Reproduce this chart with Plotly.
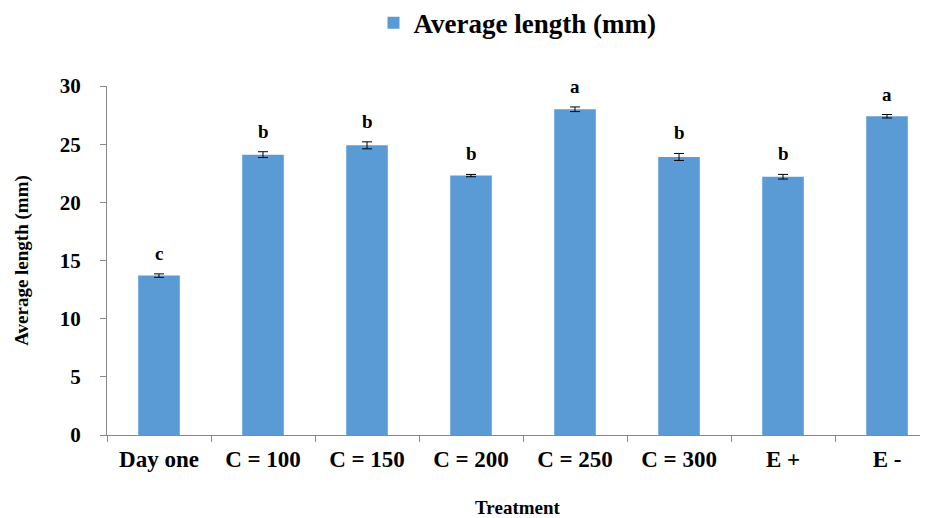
import plotly.graph_objects as go

categories = ["Day one", "C = 100", "C = 150", "C = 200", "C = 250", "C = 300", "E +", "E -"]
avg_length = [13.7, 24.1, 24.9, 22.3, 28.0, 23.9, 22.2, 27.4]
std_err = [0.15, 0.25, 0.3, 0.1, 0.2, 0.3, 0.2, 0.15]
letters = ["c", "b", "b", "b", "a", "b", "b", "a"]
y_ticks = [0, 5, 10, 15, 20, 25, 30]

FONT = "Liberation Serif, Times New Roman, serif"

fig = go.Figure()
fig.add_trace(go.Bar(
    x=categories, y=avg_length, name="<b>Average length (mm)</b>",
    marker=dict(color="#5B9BD5", line=dict(width=0)),
    width=0.4, showlegend=True,
    error_y=dict(type="data", array=std_err, color="black", thickness=1, width=5),
))

for c, v, e, l in zip(categories, avg_length, std_err, letters):
    fig.add_annotation(x=c, y=v + e, text=f"<b>{l}</b>", showarrow=False,
                       yanchor="bottom", yshift=8,
                       font=dict(family=FONT, size=19, color="black"))

# page has an 8px body margin: figure is sized/offset to fit the 928x518 window
fig.update_layout(
    width=920, height=510,
    margin=dict(l=99, r=0, t=78, b=81),
    paper_bgcolor="white", plot_bgcolor="white",
    font=dict(family=FONT, color="black"),
    showlegend=True,
    legend=dict(orientation="h", x=0.5, xanchor="center",
                yref="container", y=0.97, yanchor="middle",
                font=dict(family=FONT, size=27, color="black"),
                itemwidth=30),
    bargap=0.6,
)

fig.update_xaxes(
    range=[-0.5, 7.394], showline=True, linecolor="#888888", linewidth=1,
    ticks="outside", tickson="boundaries", ticklen=6, tickcolor="#888888",
    tickfont=dict(family=FONT, size=23, color="black"),
    ticklabelstandoff=3,
    tickvals=categories, ticktext=[f"<b>{c}</b>" for c in categories],
    title=dict(text="<b>Treatment</b>", font=dict(family=FONT, size=19, color="black"), standoff=33),
    showgrid=False,
)
fig.update_yaxes(
    range=[0, 30], showline=True, linecolor="#888888", linewidth=1,
    ticks="outside", ticklen=6, tickcolor="#888888",
    ticklabelstandoff=15,
    tickvals=y_ticks, ticktext=[f"<b>{t}</b>" for t in y_ticks],
    tickfont=dict(family=FONT, size=21, color="black"),
    title=dict(text="<b>Average length (mm)</b>", font=dict(family=FONT, size=19, color="black"), standoff=26),
    showgrid=False, zeroline=False,
)

fig.write_html("out.html")
